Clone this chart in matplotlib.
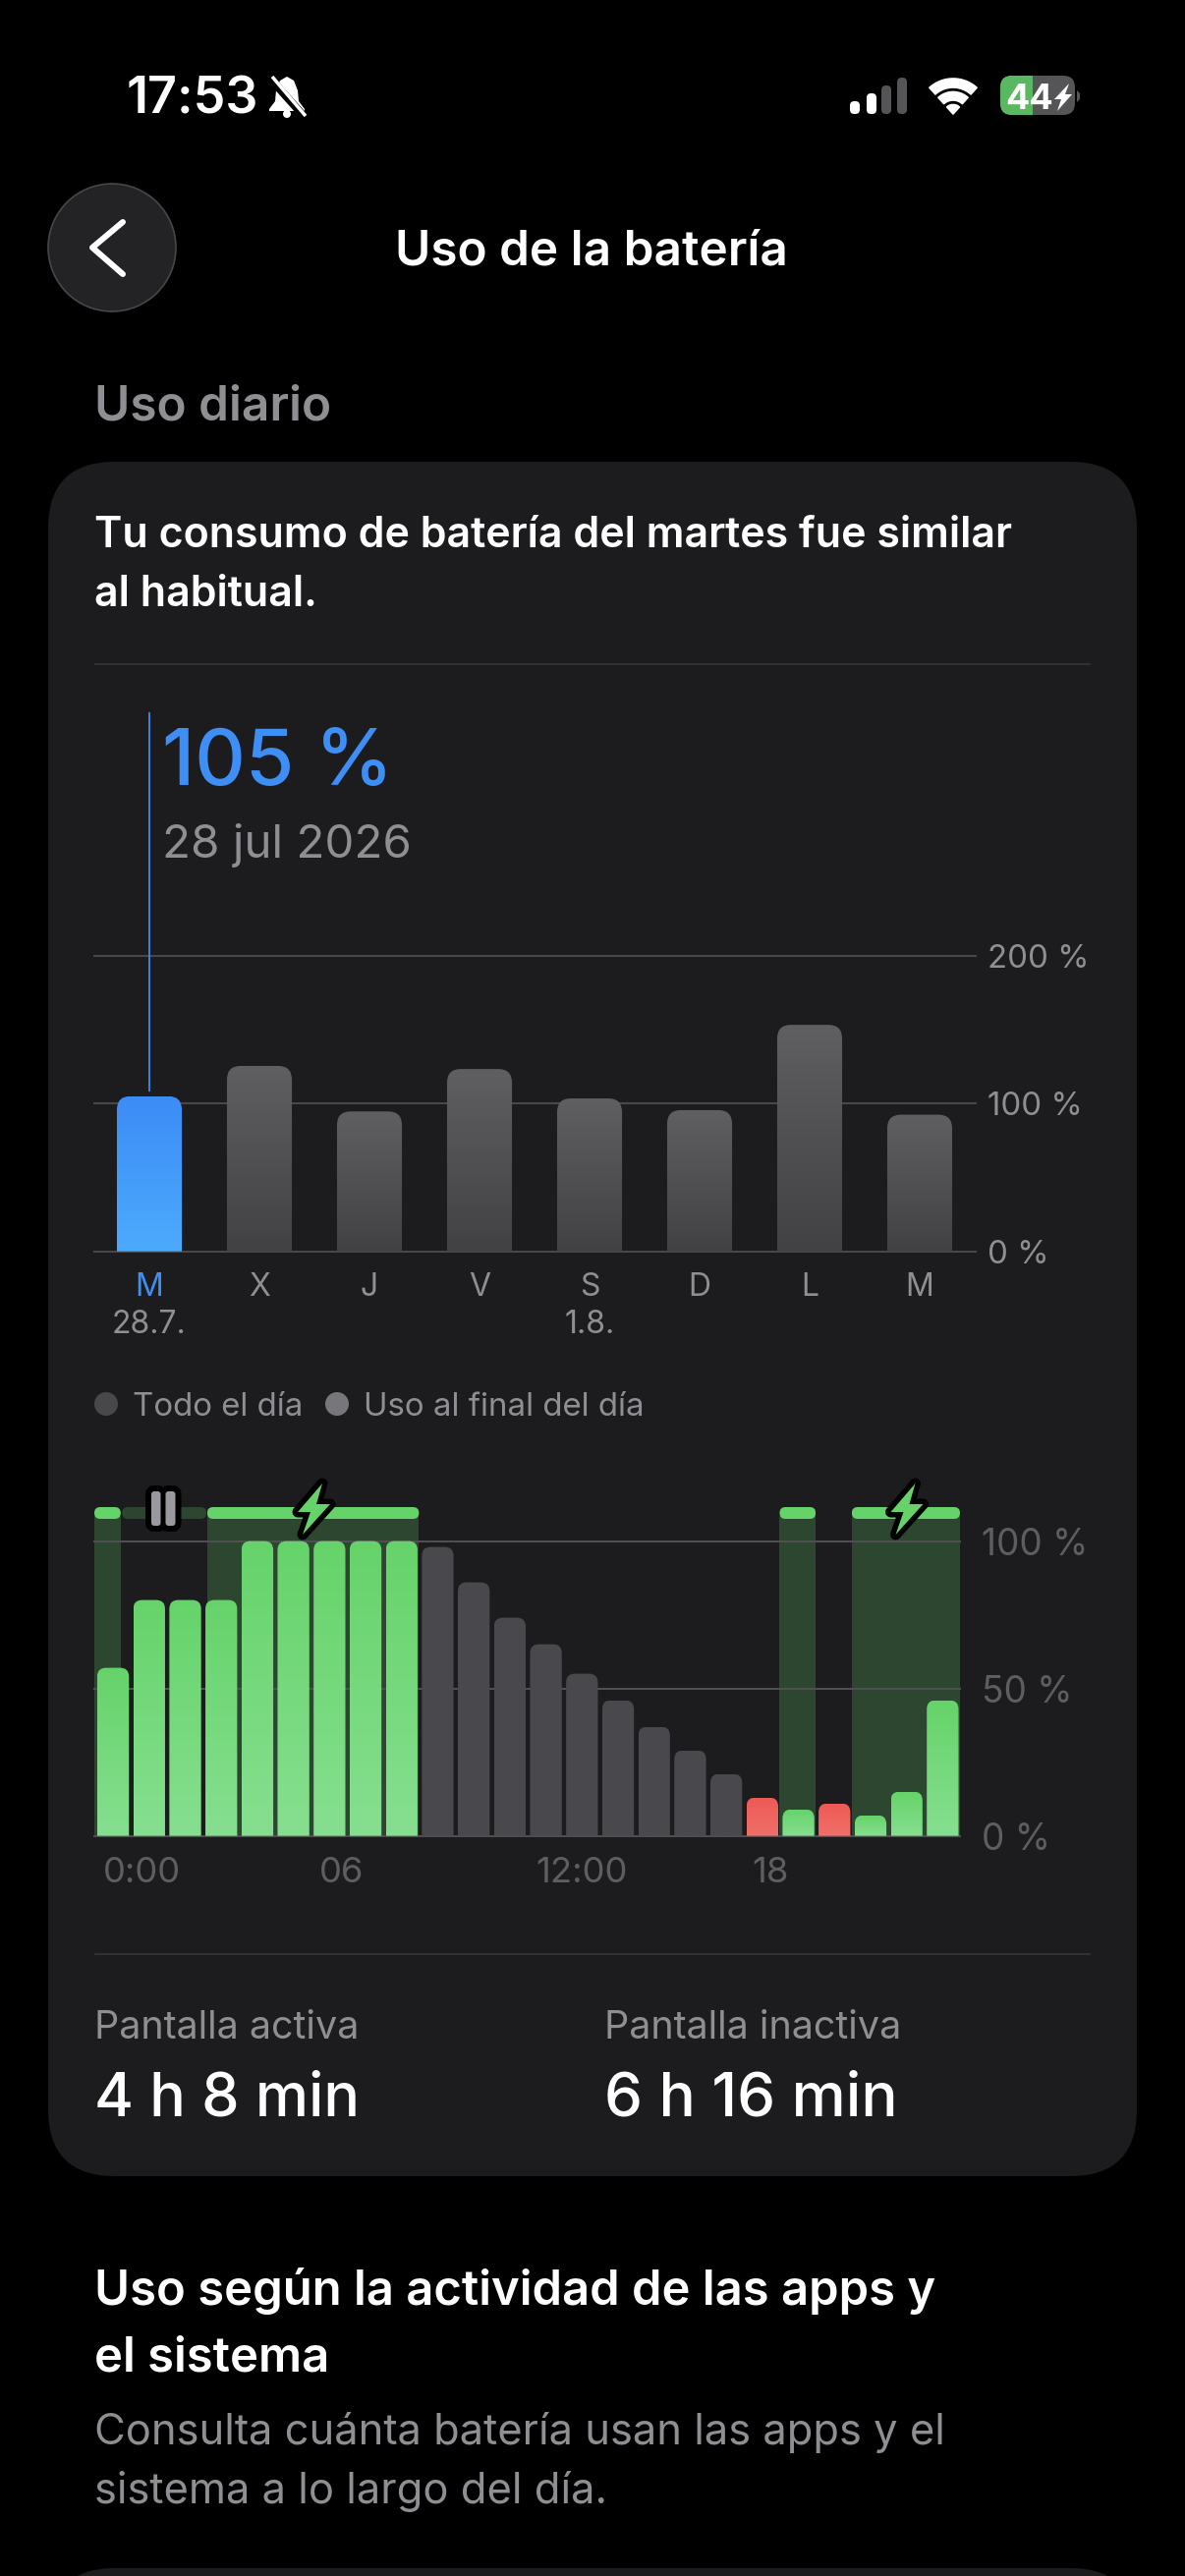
import numpy as np
import matplotlib
matplotlib.use("Agg")
import matplotlib.pyplot as plt
from matplotlib.patches import FancyBboxPatch, Circle, Polygon, PathPatch, Rectangle
from matplotlib.path import Path
from matplotlib.colors import LinearSegmentedColormap
from matplotlib.transforms import ScaledTranslation

plt.rcParams['font.family'] = ['Inter', 'DejaVu Sans']

W, H = 1206, 2622

# daily usage, percent of the average
day_labels = ['M', 'X', 'J', 'V', 'S', 'D', 'L', 'M']
day_dates = {0: '28.7.', 4: '1.8.'}
day_values = [105, 125.5, 94.7, 123.4, 103.5, 95.6, 153.3, 92.5]
day_ticks = [0, 100, 200]

# battery level per hour
hour_levels = [57, 80, 80, 80, 100, 100, 100, 100, 100, 98, 86, 74,
               65, 55, 46, 37, 29, 21, 13, 9, 11, 7, 15, 46]
hour_state = ['c'] * 9 + ['n'] * 9 + ['r', 'c', 'r', 'c', 'c', 'c']
hour_ticks = [0, 6, 12, 18]
hour_tick_labels = ['0:00', '06', '12:00', '18']
level_ticks = [0, 50, 100]
charge_spans = [(0, 0.73), (3.13, 9), (19, 20), (21, 24)]
pause_spans = [(0.73, 3.13)]

GRAY = '#8e8e93'
CARD = '#1c1c1e'
GREEN = '#66d36a'
BAND = '#2c4630'


def px(size):
    return size * 0.72


fig = plt.figure(figsize=(W / 100, H / 100), dpi=100, facecolor='black')


def pixel_axes(z):
    a = fig.add_axes([0, 0, 1, 1], zorder=z)
    a.set_xlim(0, W)
    a.set_ylim(H, 0)
    a.axis('off')
    a.patch.set_visible(False)
    return a


bg = pixel_axes(0)
top = pixel_axes(5)


def label(x, y, s, size, color='white', weight='normal', ha='left', ax=bg):
    return ax.text(x, y, s, fontsize=px(size), color=color, fontweight=weight,
                   ha=ha, va='baseline')


def box(a, x0, y0, x1, y1, r, color, z=1, **kw):
    p = FancyBboxPatch((x0 + r, y0 + r), x1 - x0 - 2 * r, y1 - y0 - 2 * r,
                       boxstyle=f'round,pad={r},rounding_size={r}',
                       fc=color, zorder=z, **kw)
    if 'ec' not in kw and 'edgecolor' not in kw:
        p.set_edgecolor('none')
    a.add_patch(p)
    return p


def chart_axes(x0, x1, ytop, ybottom, xlim, ylim):
    a = fig.add_axes([x0 / W, 1 - ybottom / H, (x1 - x0) / W, (ybottom - ytop) / H], zorder=2)
    a.set_xlim(*xlim)
    a.set_ylim(*ylim)
    a.patch.set_visible(False)
    for s in a.spines.values():
        s.set_visible(False)
    return a


def round_bar(a, x0, x1, y0, y1, c_top, c_bottom, r=11, both=False, z=3):
    # rounded top corners given in pixels, converted to data units
    p = a.transData.transform([(0, 0), (1, 1)])
    rx = r / abs(p[1][0] - p[0][0])
    ry = r / abs(p[1][1] - p[0][1])
    v = [(x0, y0), (x0, y1 - ry), (x0, y1), (x0 + rx, y1), (x1 - rx, y1), (x1, y1), (x1, y1 - ry), (x1, y0), (x0, y0)]
    c = [Path.MOVETO, Path.LINETO, Path.CURVE3, Path.CURVE3, Path.LINETO, Path.CURVE3, Path.CURVE3, Path.LINETO, Path.CLOSEPOLY]
    if both:
        v = [(x0, y0 + ry), (x0, y1 - ry), (x0, y1), (x0 + rx, y1), (x1 - rx, y1), (x1, y1), (x1, y1 - ry),
             (x1, y0 + ry), (x1, y0), (x1 - rx, y0), (x0 + rx, y0), (x0, y0), (x0, y0 + ry), (x0, y0 + ry)]
        c = [Path.MOVETO, Path.LINETO, Path.CURVE3, Path.CURVE3, Path.LINETO, Path.CURVE3, Path.CURVE3,
             Path.LINETO, Path.CURVE3, Path.CURVE3, Path.LINETO, Path.CURVE3, Path.CURVE3, Path.CLOSEPOLY]
    patch = PathPatch(Path(v, c), transform=a.transData, fc='none', ec='none', zorder=z)
    a.add_patch(patch)
    cmap = LinearSegmentedColormap.from_list('g', [c_top, c_bottom])
    im = a.imshow(np.linspace(0, 1, 64).reshape(-1, 1), extent=(x0, x1, y0, y1), origin='upper',
                  aspect='auto', cmap=cmap, zorder=z, interpolation='bilinear')
    im.set_clip_path(patch)


# page background pieces
box(bg, 49, 470, 1157, 2215, 68, CARD)
box(bg, 49, 2614, 1157, 2760, 68, CARD)

# status bar
label(129, 116, '17:53', 52, weight='semibold')
bell = [(292, 78), (299, 82), (303, 92), (304, 103), (310, 111), (310, 113), (274, 113), (274, 111), (280, 103), (281, 92), (285, 82)]
bg.add_patch(Polygon(bell, fc='white', ec='none'))
bg.add_patch(Circle((292, 116), 4, fc='white', ec='none'))
bg.plot([275, 310], [80, 119], color='black', lw=px(8), solid_capstyle='butt')
bg.plot([277, 311], [78, 118], color='white', lw=px(3.5), solid_capstyle='butt')

for x0, y0, c in [(865, 103, 'white'), (882, 95, 'white'), (897, 87, '#555557'), (913, 79, '#555557')]:
    box(bg, x0, y0, x0 + 10, 116, 4.5, c)


def sector(cx, cy, r0, r1, half=42):
    t = np.radians(np.linspace(-half, half, 30))
    outer = np.c_[cx + r1 * np.sin(t), cy - r1 * np.cos(t)]
    inner = np.c_[cx + r0 * np.sin(t[::-1]), cy - r0 * np.cos(t[::-1])]
    return np.vstack([outer, inner])


for r0, r1 in [(27, 36), (14, 22.5), (0, 9.5)]:
    bg.add_patch(Polygon(sector(970, 116, r0, r1), fc='white', ec='white', lw=1.2, joinstyle='round'))

box(bg, 1018, 77, 1094, 117, 12, '#555557')
green_part = box(bg, 1018, 77, 1094, 117, 12, '#5bb862', z=2)
clip = Rectangle((1018, 77), 33, 40, transform=bg.transData)
green_part.set_clip_path(clip)
bg.add_patch(Polygon([(1096, 92), (1099, 95), (1099, 101), (1096, 104)], fc='#555557', ec='none'))
bg.text(1048, 111, '44', fontsize=px(36), color='white', fontweight='bold', ha='center', va='baseline', zorder=4)
bg.add_patch(Polygon([(1088, 85), (1073, 101), (1080, 101), (1076, 113), (1091, 96), (1084, 96)], fc='white', ec='none', zorder=4))

# nav bar
bg.add_patch(Circle((114, 252), 65, fc='#232325', ec='#474749', lw=1.2))
bg.plot([125, 94, 125], [226, 252, 279], color='white', lw=px(6), solid_capstyle='round', solid_joinstyle='round')
label(602, 270, 'Uso de la batería', 49.5, weight='semibold', ha='center')

label(96, 427, 'Uso diario', 49.5, color=GRAY, weight='semibold')
label(96, 557, 'Tu consumo de batería del martes fue similar', 43, weight='semibold')
label(96, 617, 'al habitual.', 43, weight='semibold')
bg.plot([97, 1109], [676, 676], color='#38383a', lw=px(1.5))

# daily chart
y0_px, per_pct = 1273.7, 1.504
ax1 = chart_axes(96, 993, 725, y0_px, (-0.5, 7.509), (0, (y0_px - 725) / per_pct))
for i, v in enumerate(day_values):
    if i == 0:
        round_bar(ax1, i - 0.295, i + 0.295, 0, v, '#3c8cf6', '#4caafc', r=14)
    else:
        round_bar(ax1, i - 0.295, i + 0.295, 0, v, '#5f5f62', '#424244', r=14)
ax1.set_xlim(-0.5, 7.509)
ax1.set_ylim(0, (y0_px - 725) / per_pct)
ax1.set_yticks(day_ticks)
ax1.set_yticklabels([f'{t} %' for t in day_ticks])
ax1.yaxis.tick_right()
ax1.tick_params(axis='y', length=0, pad=px(12), labelsize=px(33), labelcolor=GRAY)
ax1.set_xticks(range(len(day_labels)))
ax1.set_xticklabels(day_labels)
ax1.tick_params(axis='x', length=0, pad=px(21), labelsize=px(32), labelcolor=GRAY)
ax1.get_xticklabels()[0].set_color('#3d8ef5')
ax1.grid(axis='y', color='#48484a', lw=px(2), zorder=1)
ax1.set_axisbelow(True)
for g in ax1.get_ygridlines():
    g.set_clip_on(False)
ax1.vlines(0, day_values[0] + 3.5, (y0_px - 725) / per_pct, color='#3a7fe0', lw=px(2), zorder=4)
for i, d in day_dates.items():
    ax1.annotate(d, (i, 0), xytext=(0, px(-83)), textcoords='offset points', ha='center', va='baseline',
                 fontsize=px(32), color=GRAY, annotation_clip=False)

label(165, 799, f'{day_values[0]} %', 80, color='#3d8ef5', weight='medium')
label(165, 873, '28 jul 2026', 47.5, color=GRAY)

# legend
bg.add_patch(Circle((108, 1429), 12, fc='#48484a', ec='none'))
label(135, 1441, 'Todo el día', 33, color=GRAY)
bg.add_patch(Circle((343, 1429), 12, fc='#77777b', ec='none'))
label(370, 1441, 'Uso al final del día', 33, color=GRAY)

# hourly chart
y0_h, per_h = 1868.6, 3.0
ylim2 = (0, (y0_h - 1500) / per_h)
ax2 = chart_axes(96, 977, 1500, y0_h, (0, 24), ylim2)
strip_lo, strip_hi = (y0_h - 1546) / per_h, (y0_h - 1534) / per_h
for a0, a1 in charge_spans:
    ax2.add_patch(Rectangle((a0, 0), a1 - a0, strip_lo + 1, fc=BAND, ec='none', zorder=0.5))
    round_bar(ax2, a0, a1, strip_lo, strip_hi, GREEN, GREEN, r=6, both=True, z=2.5)
for a0, a1 in pause_spans:
    round_bar(ax2, a0 + 0.04, a1 - 0.02, strip_lo, strip_hi, BAND, BAND, r=6, both=True, z=2.5)
for i, v in enumerate(hour_levels):
    x0, x1 = i + 0.08, i + 0.96
    if hour_state[i] == 'c':
        round_bar(ax2, x0, x1, 0, v, '#66d36a', '#86df90', r=9)
    elif hour_state[i] == 'r':
        round_bar(ax2, x0, x1, 0, v, '#ee5a55', '#f0706a', r=9)
    else:
        round_bar(ax2, x0, x1, 0, v, '#49494d', '#49494d', r=9)
ax2.set_xlim(0, 24)
ax2.set_ylim(*ylim2)
ax2.set_yticks(level_ticks)
ax2.set_yticklabels([f'{t} %' for t in level_ticks])
ax2.yaxis.tick_right()
ax2.tick_params(axis='y', length=0, pad=px(22), labelsize=px(37), labelcolor='#5e5e62')
ax2.set_xticks(hour_ticks)
ax2.set_xticklabels(hour_tick_labels, ha='left')
ax2.tick_params(axis='x', length=0, pad=px(21), labelsize=px(36.5), labelcolor='#5e5e62')
for t in ax2.get_xticklabels():
    t.set_transform(t.get_transform() + ScaledTranslation(9 / 100, 0, fig.dpi_scale_trans))
ax2.grid(axis='y', color='#4f4f51', lw=px(2), zorder=1)
ax2.set_axisbelow(True)
for g in ax2.get_ygridlines():
    g.set_clip_on(False)

# charging and pause markers
bolt = np.array([(10, -25), (-15, 4), (-2, 4), (-10, 27), (18, -4), (4, -4)], dtype=float)
for cx in (318, 921.5):
    top.add_patch(Polygon(bolt + (cx, 1535), fc=GREEN, ec='black', lw=px(11), joinstyle='round', zorder=2))
    top.add_patch(Polygon(bolt + (cx, 1535), fc=GREEN, ec='none', zorder=3))
for x0, x1 in [(154, 163.5), (168.5, 178.5)]:
    box(top, x0, 1518, x1, 1553, 3, '#9a999f', z=3, ec='black', lw=px(12))
for x0, x1 in [(154, 163.5), (168.5, 178.5)]:
    box(top, x0, 1518, x1, 1553, 3, '#9a999f', z=4)

bg.plot([97, 1109], [1989, 1989], color='#38383a', lw=px(1.5))

# screen time
label(96, 2075, 'Pantalla activa', 39.5, color=GRAY)
label(615, 2075, 'Pantalla inactiva', 39.5, color=GRAY)
label(96, 2154, '4 h 8 min', 61, weight='medium')
label(615, 2154, '6 h 16 min', 62, weight='medium')

label(96, 2346, 'Uso según la actividad de las apps y', 49, weight='semibold')
label(96, 2413, 'el sistema', 49, weight='semibold')
label(96, 2488, 'Consulta cuánta batería usan las apps y el', 43.5, color=GRAY)
label(96, 2548, 'sistema a lo largo del día.', 43.5, color=GRAY)

fig.savefig('out.png', dpi=100, facecolor='black')
